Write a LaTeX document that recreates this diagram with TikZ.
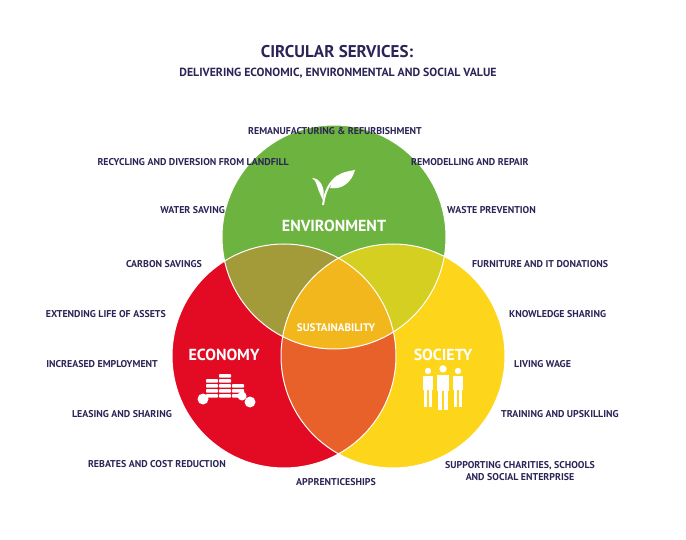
\documentclass[tikz,border=0pt]{standalone}
\usepackage{fontspec}
\setmainfont{PT Sans}
\begin{document}
\begin{tikzpicture}[x=1pt,y=-1pt,
 lab/.style={text=navy,font=\bfseries\fontsize{9.9}{11.8}\selectfont,inner sep=1pt},
 big/.style={text=white,font=\bfseries\fontsize{16}{18}\selectfont},
 mid/.style={text=white,font=\bfseries\fontsize{11}{13}\selectfont}]
\definecolor{navy}{HTML}{2B2456}
\definecolor{cg}{HTML}{6DB33F}\definecolor{cr}{HTML}{E30B24}\definecolor{cy}{HTML}{FDD51A}
\definecolor{cgr}{HTML}{A39A3A}\definecolor{cgy}{HTML}{D5CF22}\definecolor{cry}{HTML}{E8602A}\definecolor{call}{HTML}{F2B71C}
\useasboundingbox (0,0) rectangle (686,540);
\def\G{(334,237) circle (112)}\def\R{(284,356) circle (112)}\def\Y{(393,356) circle (112)}
\fill[cg] \G; \fill[cr] \R; \fill[cy] \Y;
\begin{scope}\clip \G; \fill[cgr] \R; \fill[cgy] \Y; \end{scope}
\begin{scope}\clip \R; \fill[cry] \Y; \end{scope}
\begin{scope}\clip \G; \clip \R; \fill[call] \Y; \end{scope}
\draw[white,line width=1pt] \G \R \Y;
\node[text=navy,font=\bfseries\fontsize{17}{19}\selectfont] (t1) at (337,52) {CIRCULAR SERVICES:};
\node[text=navy,font=\bfseries\fontsize{11.8}{13}\selectfont] (t2) at (338,73) {DELIVERING ECONOMIC, ENVIRONMENTAL AND SOCIAL VALUE};
\node[big] (env) at (334,226) {ENVIRONMENT};
\node[big] (eco) at (224,355) {ECONOMY};
\node[big] (soc) at (443,355) {SOCIETY};
\node[mid] (sus) at (336,328) {SUSTAINABILITY};
% leaf icon
\begin{scope}[white]
\draw[line width=2pt] (323,205) .. controls (325,190) and (330,182) .. (338,176);
\fill (323,200) .. controls (315,185) and (318,182) .. (312,178) .. controls (320,178) and (326,188) .. (323,200);
\fill (330,188) .. controls (335,172) and (345,172) .. (355,170) .. controls (352,182) and (342,190) .. (330,188);
\end{scope}
% coins icon
\foreach \x/\n in {212/4,225/5,238/3}{\foreach \i in {1,...,\n}{\fill[white,rounded corners=0.8] (\x-6,399-\i*5) rectangle (\x+6,399-\i*5+3.6);}}
\fill[white] (203,399) circle (5.5); \fill[white] (250,402) circle (5.5); \fill[white] (242,396) circle (4.5);
% people icon
\foreach \x/\s in {428/1,443/1.15,458/1}{\begin{scope}[shift={(\x,385)},scale=\s]
\fill[white] (0,-14) circle (3.2); \fill[white] (-5,-9) rectangle (5,5); \fill[white] (-4,5) rectangle (-0.7,22); \fill[white] (0.7,5) rectangle (4,22);
\end{scope}}
% labels
\node[lab] (a1) at (335,131) {REMANUFACTURING \& REFURBISHMENT};
\node[lab,anchor=east] (a2) at (290,162) {RECYCLING AND DIVERSION FROM LANDFILL};
\node[lab,anchor=west] (a3) at (410,162) {REMODELLING AND REPAIR};
\node[lab,anchor=east] (a4) at (226,210) {WATER SAVING};
\node[lab,anchor=west] (a5) at (446,210) {WASTE PREVENTION};
\node[lab,anchor=east] (a6) at (203,264) {CARBON SAVINGS};
\node[lab,anchor=west] (a7) at (471,264) {FURNITURE AND IT DONATIONS};
\node[lab,anchor=east] (a8) at (167,314) {EXTENDING LIFE OF ASSETS};
\node[lab,anchor=west] (a9) at (508,314) {KNOWLEDGE SHARING};
\node[lab,anchor=east] (a10) at (159,364) {INCREASED EMPLOYMENT};
\node[lab,anchor=west] (a11) at (513,364) {LIVING WAGE};
\node[lab,anchor=east] (a12) at (173,414) {LEASING AND SHARING};
\node[lab,anchor=west] (a13) at (500,414) {TRAINING AND UPSKILLING};
\node[lab,anchor=east] (a14) at (227,464) {REBATES AND COST REDUCTION};
\node[lab,align=center] (a15) at (520,471) {SUPPORTING CHARITIES, SCHOOLS\\AND SOCIAL ENTERPRISE};
\node[lab] (a16) at (336,482) {APPRENTICESHIPS};
\end{tikzpicture}
\end{document}
